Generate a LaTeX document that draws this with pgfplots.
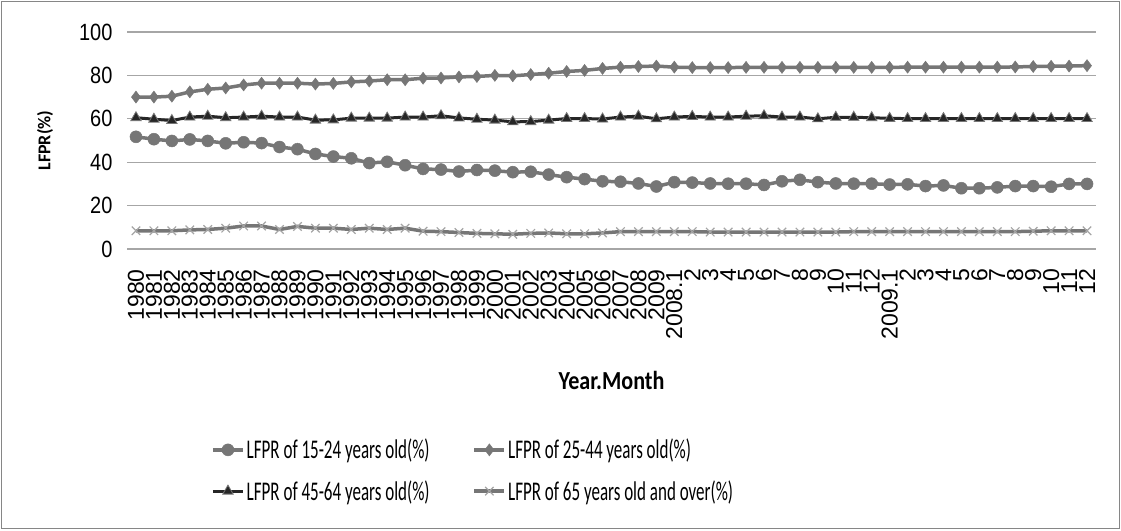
\documentclass[border=0pt]{standalone}
\usepackage{pgfplots}
\pgfplotsset{compat=1.18}
\usepackage{fontspec}
\setmainfont{Carlito}
\newfontfamily\xtickfont{Liberation Sans}
\newfontfamily\ytickfont[FakeStretch=0.85]{Liberation Sans}
\newfontfamily\legfont[FakeStretch=0.63]{Carlito}
\newfontfamily\labfont[FakeStretch=0.85]{Carlito}

\definecolor{sergray}{RGB}{118,118,118}
\definecolor{serdark}{RGB}{38,38,38}
\definecolor{crossgray}{RGB}{165,165,165}
\definecolor{gridgray}{RGB}{166,166,166}
\definecolor{framegray}{RGB}{134,134,134}

% LFPR by age group; x = 0..53 (1980..2009 yearly, then 2008 and 2009 monthly)
\pgfplotstableread{
x  a     b     c     d
0  51.7  70.0  60.5  8.4
1  50.6  70.0  59.8  8.4
2  49.8  70.4  59.2  8.4
3  50.5  72.4  60.8  8.8
4  49.8  73.6  61.2  9.0
5  48.7  74.2  60.5  9.6
6  49.2  75.6  60.8  10.6
7  48.8  76.4  61.2  10.6
8  47.0  76.4  60.8  9.0
9  46.0  76.4  60.8  10.4
10 43.8  76.0  59.4  9.6
11 42.6  76.3  59.5  9.6
12 41.8  77.0  60.3  9.0
13 39.6  77.4  60.3  9.6
14 40.2  78.0  60.3  9.0
15 38.6  78.0  60.8  9.6
16 36.9  78.7  60.8  8.2
17 36.6  78.8  61.4  8.0
18 35.7  79.3  60.4  7.6
19 36.4  79.5  59.8  7.2
20 36.1  80.0  59.4  7.0
21 35.4  79.8  58.6  6.8
22 35.6  80.4  58.7  7.2
23 34.3  81.0  59.4  7.4
24 33.1  81.8  60.1  7.0
25 32.2  82.3  60.1  7.0
26 31.2  83.2  59.9  7.4
27 31.0  83.8  60.8  8.0
28 30.2  84.1  61.2  8.0
29 28.8  84.3  60.0  8.0
30 30.8  83.8  60.8  8.0
31 30.6  83.6  61.1  8.0
32 30.2  83.6  60.8  7.8
33 30.1  83.6  60.8  7.8
34 30.1  83.7  61.2  7.8
35 29.5  83.7  61.4  7.8
36 31.2  83.7  60.8  7.8
37 31.9  83.7  60.8  7.8
38 30.8  83.7  60.0  7.8
39 30.2  83.7  60.7  7.8
40 30.1  83.7  60.7  8.0
41 30.1  83.7  60.5  8.0
42 29.7  83.7  60.2  8.0
43 29.8  83.8  60.1  8.0
44 29.0  83.8  60.1  8.0
45 29.3  83.8  60.1  8.0
46 28.0  83.8  60.1  8.0
47 28.0  83.8  60.1  8.0
48 28.4  83.8  60.1  8.0
49 29.0  83.9  60.1  8.0
50 29.0  84.1  60.1  8.2
51 28.7  84.2  60.1  8.4
52 30.0  84.3  60.1  8.4
53 30.0  84.5  60.1  8.4
}\lfpr

\begin{document}
\begin{tikzpicture}
\useasboundingbox (0,0) rectangle (1121pt,530pt);
\begin{axis}[
  at={(127pt,281pt)}, anchor=south west,
  scale only axis, width=969pt, height=217pt,
  xmin=-0.5, xmax=53.5, ymin=0, ymax=100,
  xtick={0,...,53},
  xticklabels={1980,1981,1982,1983,1984,1985,1986,1987,1988,1989,1990,1991,1992,1993,1994,1995,1996,1997,1998,1999,2000,2001,2002,2003,2004,2005,2006,2007,2008,2009,2008.1,2,3,4,5,6,7,8,9,10,11,12,2009.1,2,3,4,5,6,7,8,9,10,11,12},
  ytick={0,20,...,100},
  /pgf/number format/assume math mode=true,
  major tick length=0pt,
  axis line style={draw=none},
  ymajorgrids,
  major grid style={color=gridgray, line width=1.3pt},
  xticklabel shift=17pt,
  xticklabel style={font=\xtickfont\fontsize{23}{26}\selectfont, rotate=90, anchor=east, inner sep=3pt},
  yticklabel style={font=\ytickfont\fontsize{23.5}{27}\selectfont, xshift=-11pt},
  xlabel={Year.Month},
  xlabel style={font=\labfont\bfseries\fontsize{26}{30}\selectfont, at={(axis description cs:0.5,-0.604)}, anchor=center},
  ylabel={LFPR(\%)},
  ylabel style={font=\bfseries\fontsize{18}{21}\selectfont, at={(axis description cs:-0.0846,0.5)}, anchor=center},
  legend columns=2,
  legend cell align=left,
  legend style={at={(axis description cs:0.0867,-1.0207)}, anchor=west,
    draw=none, fill=none, inner sep=0pt, row sep=16pt,
    nodes={inner sep=2pt},
    font=\legfont\fontsize{27}{31}\selectfont},
  /tikz/every even column/.append style={column sep=41pt},
  legend image code/.code={\draw[mark repeat=2,mark phase=2,#1] plot coordinates {(0pt,0pt) (15pt,0pt) (30pt,0pt)};},
]
\addplot[color=sergray, line width=3.5pt, mark=*, mark size=6pt,
  mark options={fill=sergray, draw=sergray, line width=0.5pt}]
  table[x=x, y=a] {\lfpr};
\addlegendentry{LFPR of 15-24 years old(\%)}
\addplot[color=sergray, line width=3.5pt, mark=diamond*, mark size=6pt,
  mark options={fill=sergray, draw=sergray, line width=0.5pt}]
  table[x=x, y=b] {\lfpr};
\addlegendentry{LFPR of 25-44 years old(\%)}
\addplot[color=serdark, line width=3pt, mark=triangle*, mark size=6pt,
  mark options={fill=serdark, draw=sergray, line width=0.8pt}]
  table[x=x, y=c] {\lfpr};
\addlegendentry{LFPR of 45-64 years old(\%)}
\addplot[color=sergray, line width=3.5pt, mark=x, mark size=6pt,
  mark options={draw=crossgray, line width=1.2pt}]
  table[x=x, y=d] {\lfpr};
\addlegendentry{LFPR of 65 years old and over(\%)}
\end{axis}
\draw[framegray, line width=1.3pt] (1.5pt,1.5pt) rectangle (1119.5pt,528.5pt);
\end{tikzpicture}
\end{document}
